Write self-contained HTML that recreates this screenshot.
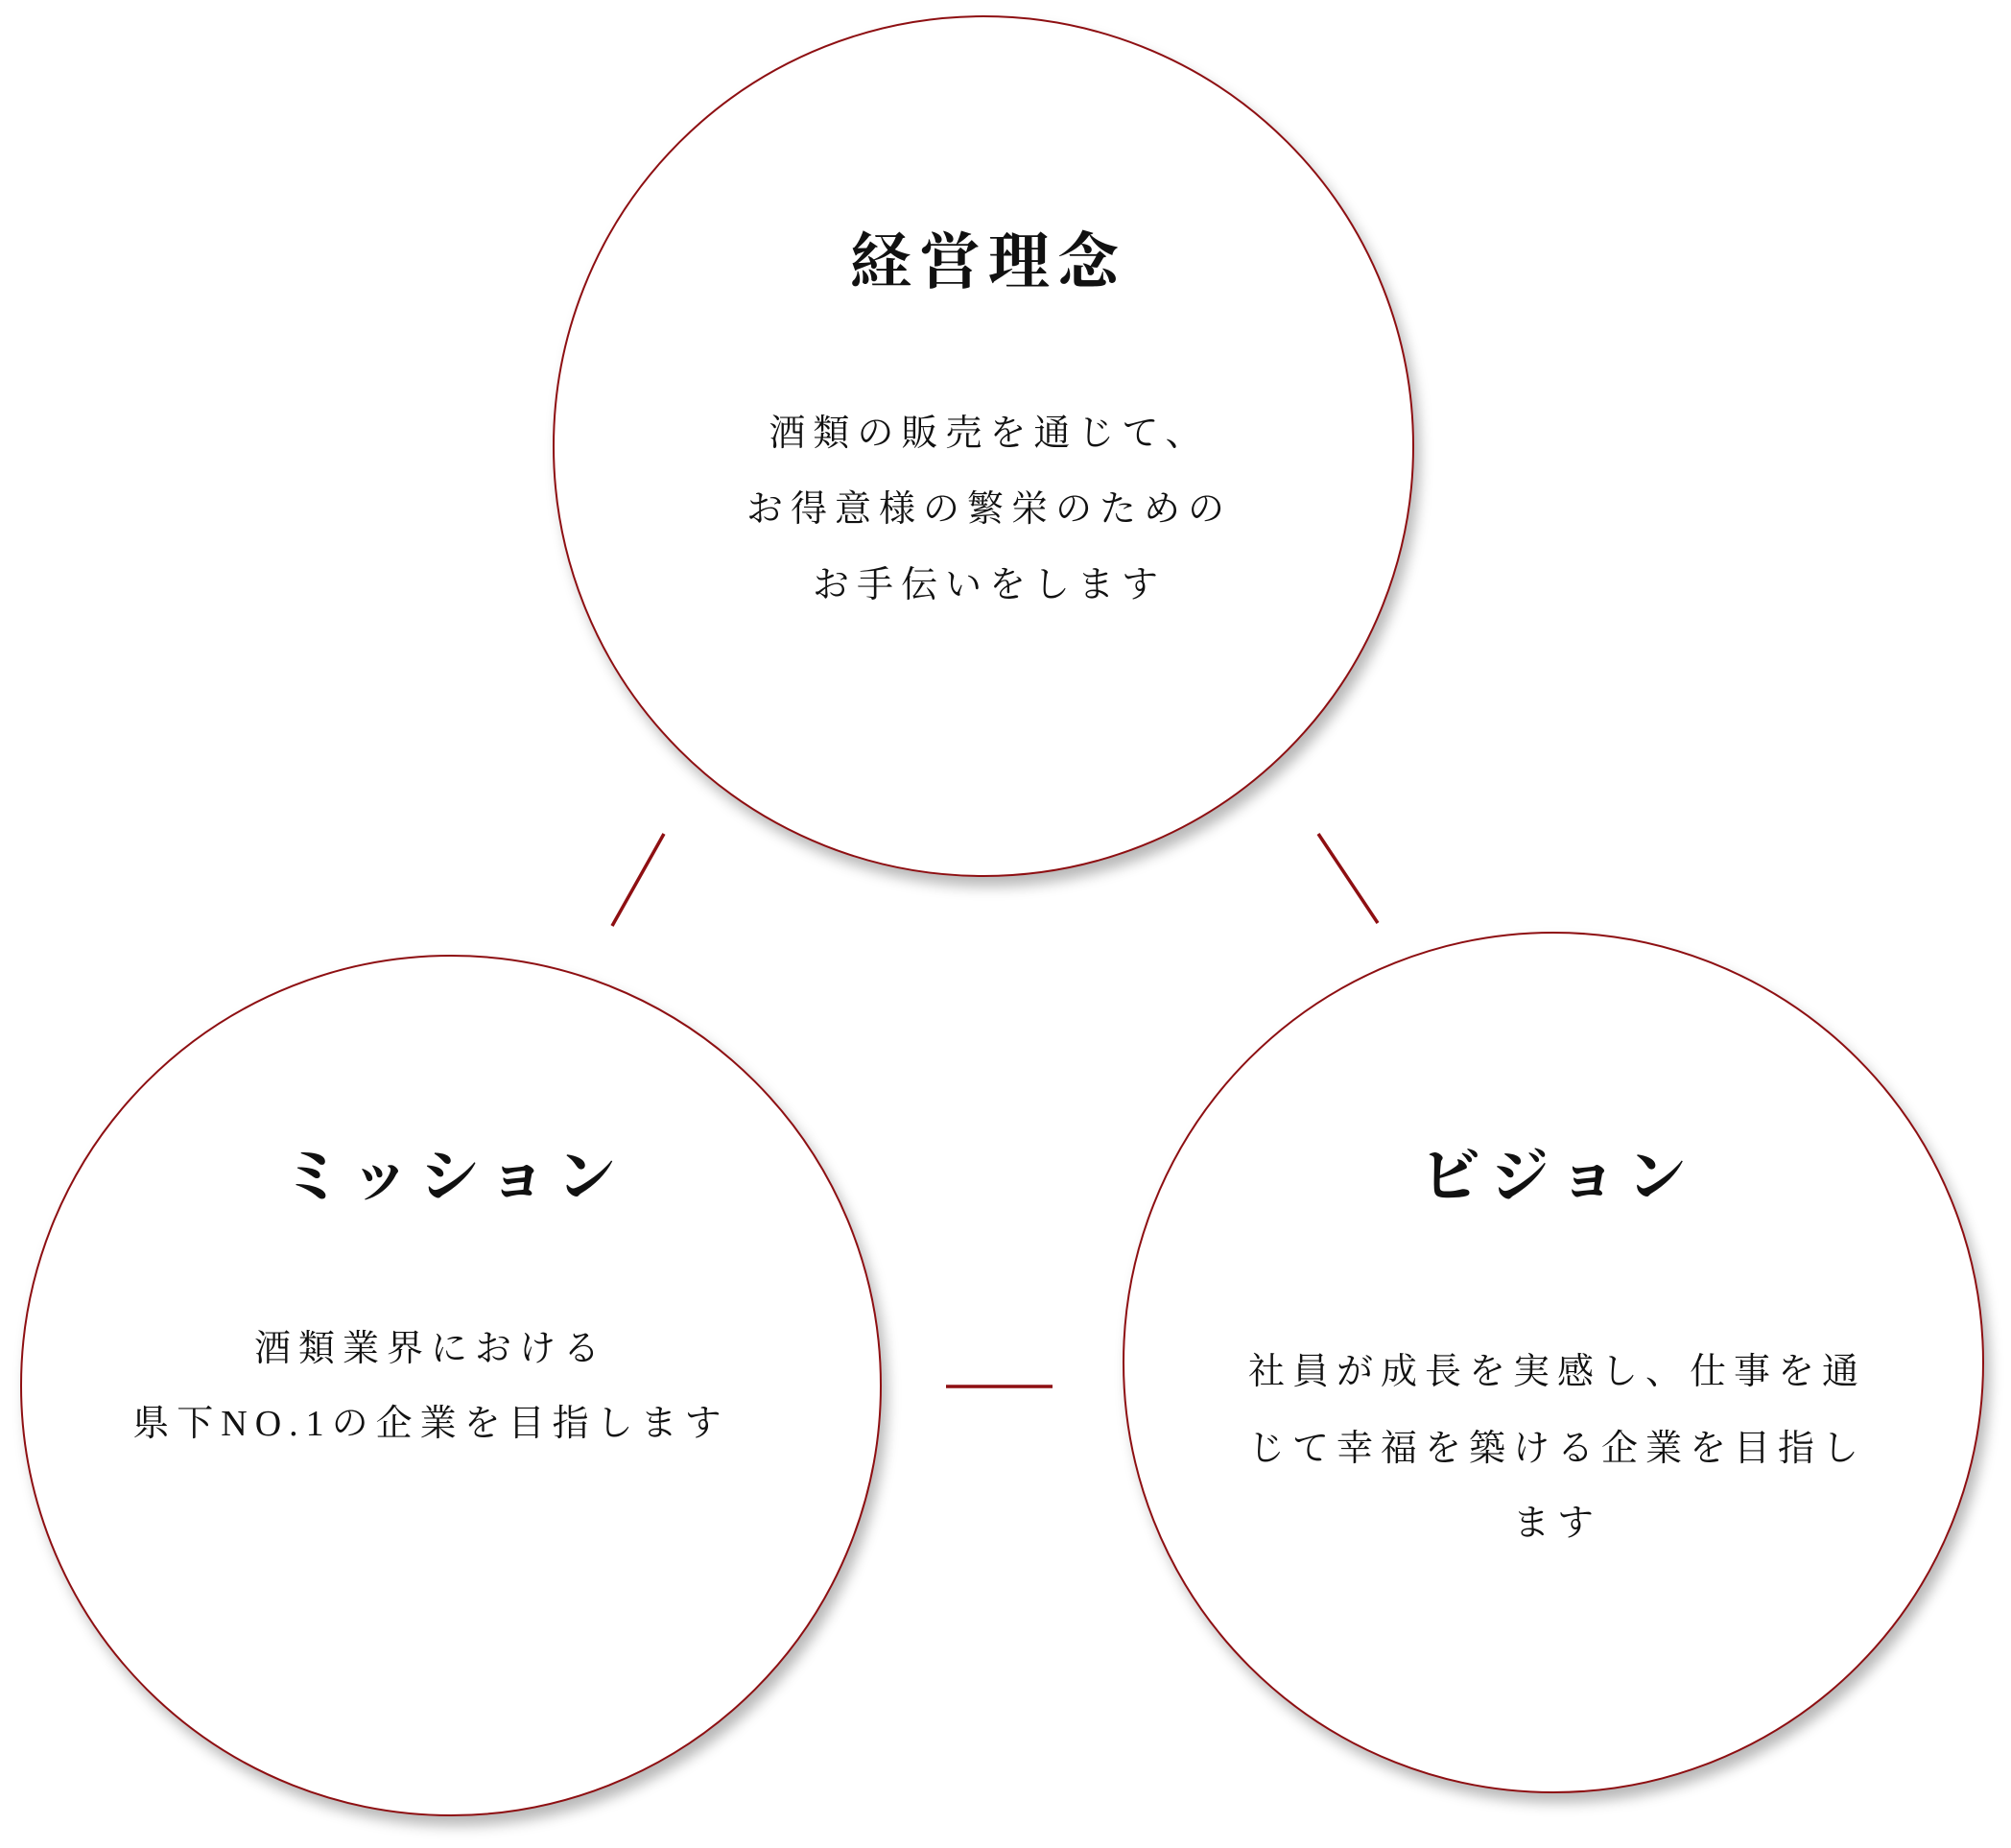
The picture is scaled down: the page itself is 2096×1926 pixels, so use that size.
<!DOCTYPE html>
<html><head><meta charset="utf-8"><style>
html,body{margin:0;padding:0;background:#fff;}
body{width:2096px;height:1926px;position:relative;overflow:hidden;font-family:"Liberation Serif","Noto Serif CJK SC",serif;color:#111;}
.c{position:absolute;width:894px;height:894px;border-radius:50%;border:2px solid #8e0f12;background:#fff;box-shadow:6px 10px 14px rgba(0,0,0,.28);}
.t{position:absolute;left:0;width:4096px;text-align:center;white-space:nowrap;line-height:1;}
.h{font-weight:700;font-size:64px;letter-spacing:8px;}
.b{font-size:38px;letter-spacing:8px;}
</style></head><body>
<div class="c" style="left:576px;top:16px;"></div>
<div class="c" style="left:21px;top:995px;"></div>
<div class="c" style="left:1170px;top:971px;"></div>
<svg width="2096" height="1926" style="position:absolute;left:0;top:0">
<g stroke="#8e0f12" stroke-width="3.5">
<line x1="692" y1="869" x2="638" y2="965"/>
<line x1="1374" y1="869" x2="1436" y2="962"/>
<line x1="986" y1="1445" x2="1097" y2="1445"/>
</g></svg>

<div class="t h" style="left:-1018px;top:242px;">経営理念</div>
<div class="t b" style="left:-1017px;top:433px;">酒類の販売を通じて、</div>
<div class="t b" style="left:-1017px;top:512px;">お得意様の繁栄のための</div>
<div class="t b" style="left:-1017px;top:591px;">お手伝いをします</div>

<div class="t h" style="left:-1575px;top:1196px;font-size:62px;letter-spacing:10px;">ミッション</div>
<div class="t b" style="left:-1599px;top:1387px;">酒類業界における</div>
<div class="t b" style="left:-1599px;top:1465px;">県下NO.1の企業を目指します</div>

<div class="t h" style="left:-424px;top:1196px;font-size:62px;letter-spacing:10px;">ビジョン</div>
<div class="t b" style="left:-425px;top:1411px;">社員が成長を実感し、仕事を通</div>
<div class="t b" style="left:-425px;top:1491px;">じて幸福を築ける企業を目指し</div>
<div class="t b" style="left:-425px;top:1569px;">ます</div>
</body></html>
